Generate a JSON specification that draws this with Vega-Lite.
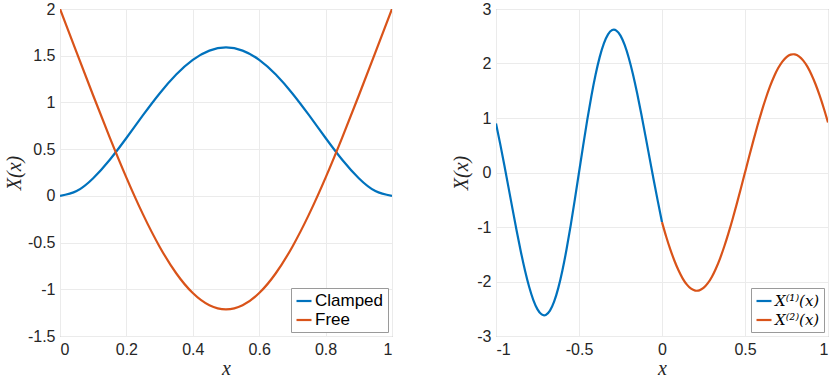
{
  "$schema": "https://vega.github.io/schema/vega-lite/v6.json",
  "padding": {"left": 3, "top": 0, "right": 0, "bottom": 0},
  "background": "white",
  "spacing": 104,
  "bounds": "flush",
  "resolve": {"scale": {"color": "independent"}},
  "config": {
    "font": "Liberation Sans",
    "view": {"stroke": "#9a9a9a", "strokeWidth": 1},
    "axis": {
      "labelFont": "Liberation Sans", "labelFontSize": 16, "labelColor": "#262626",
      "ticks": false, "tickSize": 0, "domain": false,
      "gridColor": "#ebebeb", "gridWidth": 1,
      "titleFont": "Liberation Serif", "titleFontStyle": "italic", "titleFontWeight": "normal",
      "titleFontSize": 20, "titleColor": "#262626"
    },
    "legend": {
      "orient": "bottom-right", "offset": 4, "title": null,
      "strokeColor": "#9a9a9a", "fillColor": "white", "padding": 4, "cornerRadius": 0,
      "symbolType": "stroke", "symbolSize": 225, "symbolStrokeWidth": 2.2,
      "labelFontSize": 17, "labelColor": "#000000", "labelOffset": 2, "rowPadding": 2
    }
  },
  "datasets": {
    "left": [
      {"x": 0, "y": 0, "series": "Clamped"},
      {"x": 0.05, "y": 0.0516, "series": "Clamped"},
      {"x": 0.1, "y": 0.1891, "series": "Clamped"},
      {"x": 0.15, "y": 0.3867, "series": "Clamped"},
      {"x": 0.2, "y": 0.6194, "series": "Clamped"},
      {"x": 0.25, "y": 0.8631, "series": "Clamped"},
      {"x": 0.3, "y": 1.096, "series": "Clamped"},
      {"x": 0.35, "y": 1.2987, "series": "Clamped"},
      {"x": 0.4, "y": 1.4555, "series": "Clamped"},
      {"x": 0.45, "y": 1.5544, "series": "Clamped"},
      {"x": 0.5, "y": 1.5882, "series": "Clamped"},
      {"x": 0.55, "y": 1.5544, "series": "Clamped"},
      {"x": 0.6, "y": 1.4555, "series": "Clamped"},
      {"x": 0.65, "y": 1.2987, "series": "Clamped"},
      {"x": 0.7, "y": 1.096, "series": "Clamped"},
      {"x": 0.75, "y": 0.8631, "series": "Clamped"},
      {"x": 0.8, "y": 0.6194, "series": "Clamped"},
      {"x": 0.85, "y": 0.3867, "series": "Clamped"},
      {"x": 0.9, "y": 0.1891, "series": "Clamped"},
      {"x": 0.95, "y": 0.0516, "series": "Clamped"},
      {"x": 1, "y": 0, "series": "Clamped"},
      {"x": 0, "y": 2, "series": "Free"},
      {"x": 0.05, "y": 1.5355, "series": "Free"},
      {"x": 0.1, "y": 1.0743, "series": "Free"},
      {"x": 0.15, "y": 0.624, "series": "Free"},
      {"x": 0.2, "y": 0.1955, "series": "Free"},
      {"x": 0.25, "y": -0.1984, "series": "Free"},
      {"x": 0.3, "y": -0.544, "series": "Free"},
      {"x": 0.35, "y": -0.8284, "series": "Free"},
      {"x": 0.4, "y": -1.0405, "series": "Free"},
      {"x": 0.45, "y": -1.1714, "series": "Free"},
      {"x": 0.5, "y": -1.2156, "series": "Free"},
      {"x": 0.55, "y": -1.1714, "series": "Free"},
      {"x": 0.6, "y": -1.0405, "series": "Free"},
      {"x": 0.65, "y": -0.8284, "series": "Free"},
      {"x": 0.7, "y": -0.544, "series": "Free"},
      {"x": 0.75, "y": -0.1984, "series": "Free"},
      {"x": 0.8, "y": 0.1955, "series": "Free"},
      {"x": 0.85, "y": 0.624, "series": "Free"},
      {"x": 0.9, "y": 1.0743, "series": "Free"},
      {"x": 0.95, "y": 1.5355, "series": "Free"},
      {"x": 1, "y": 2, "series": "Free"}
    ],
    "right": [
      {"x": -1, "y": 0.8988, "series": "X⁽¹⁾(x)"},
      {"x": -0.975, "y": 0.5294, "series": "X⁽¹⁾(x)"},
      {"x": -0.95, "y": 0.1375, "series": "X⁽¹⁾(x)"},
      {"x": -0.925, "y": -0.2682, "series": "X⁽¹⁾(x)"},
      {"x": -0.9, "y": -0.6772, "series": "X⁽¹⁾(x)"},
      {"x": -0.875, "y": -1.0777, "series": "X⁽¹⁾(x)"},
      {"x": -0.85, "y": -1.4573, "series": "X⁽¹⁾(x)"},
      {"x": -0.825, "y": -1.8028, "series": "X⁽¹⁾(x)"},
      {"x": -0.8, "y": -2.1016, "series": "X⁽¹⁾(x)"},
      {"x": -0.775, "y": -2.3415, "series": "X⁽¹⁾(x)"},
      {"x": -0.75, "y": -2.5121, "series": "X⁽¹⁾(x)"},
      {"x": -0.725, "y": -2.6046, "series": "X⁽¹⁾(x)"},
      {"x": -0.7, "y": -2.6131, "series": "X⁽¹⁾(x)"},
      {"x": -0.675, "y": -2.5345, "series": "X⁽¹⁾(x)"},
      {"x": -0.65, "y": -2.3693, "series": "X⁽¹⁾(x)"},
      {"x": -0.625, "y": -2.1214, "series": "X⁽¹⁾(x)"},
      {"x": -0.6, "y": -1.7978, "series": "X⁽¹⁾(x)"},
      {"x": -0.575, "y": -1.4093, "series": "X⁽¹⁾(x)"},
      {"x": -0.55, "y": -0.9694, "series": "X⁽¹⁾(x)"},
      {"x": -0.525, "y": -0.4938, "series": "X⁽¹⁾(x)"},
      {"x": -0.5, "y": 0, "series": "X⁽¹⁾(x)"},
      {"x": -0.475, "y": 0.4938, "series": "X⁽¹⁾(x)"},
      {"x": -0.45, "y": 0.9694, "series": "X⁽¹⁾(x)"},
      {"x": -0.425, "y": 1.4093, "series": "X⁽¹⁾(x)"},
      {"x": -0.4, "y": 1.7978, "series": "X⁽¹⁾(x)"},
      {"x": -0.375, "y": 2.1214, "series": "X⁽¹⁾(x)"},
      {"x": -0.35, "y": 2.3693, "series": "X⁽¹⁾(x)"},
      {"x": -0.325, "y": 2.5345, "series": "X⁽¹⁾(x)"},
      {"x": -0.3, "y": 2.6131, "series": "X⁽¹⁾(x)"},
      {"x": -0.275, "y": 2.6046, "series": "X⁽¹⁾(x)"},
      {"x": -0.25, "y": 2.5121, "series": "X⁽¹⁾(x)"},
      {"x": -0.225, "y": 2.3415, "series": "X⁽¹⁾(x)"},
      {"x": -0.2, "y": 2.1016, "series": "X⁽¹⁾(x)"},
      {"x": -0.175, "y": 1.8028, "series": "X⁽¹⁾(x)"},
      {"x": -0.15, "y": 1.4573, "series": "X⁽¹⁾(x)"},
      {"x": -0.125, "y": 1.0777, "series": "X⁽¹⁾(x)"},
      {"x": -0.1, "y": 0.6772, "series": "X⁽¹⁾(x)"},
      {"x": -0.075, "y": 0.2682, "series": "X⁽¹⁾(x)"},
      {"x": -0.05, "y": -0.1375, "series": "X⁽¹⁾(x)"},
      {"x": -0.025, "y": -0.5294, "series": "X⁽¹⁾(x)"},
      {"x": 0, "y": -0.91, "series": "X⁽¹⁾(x)"},
      {"x": 0, "y": -0.91, "series": "X⁽²⁾(x)"},
      {"x": 0.025, "y": -1.1744, "series": "X⁽²⁾(x)"},
      {"x": 0.05, "y": -1.4097, "series": "X⁽²⁾(x)"},
      {"x": 0.075, "y": -1.6193, "series": "X⁽²⁾(x)"},
      {"x": 0.1, "y": -1.7993, "series": "X⁽²⁾(x)"},
      {"x": 0.125, "y": -1.9464, "series": "X⁽²⁾(x)"},
      {"x": 0.15, "y": -2.058, "series": "X⁽²⁾(x)"},
      {"x": 0.175, "y": -2.132, "series": "X⁽²⁾(x)"},
      {"x": 0.2, "y": -2.167, "series": "X⁽²⁾(x)"},
      {"x": 0.225, "y": -2.1625, "series": "X⁽²⁾(x)"},
      {"x": 0.25, "y": -2.1185, "series": "X⁽²⁾(x)"},
      {"x": 0.275, "y": -2.0358, "series": "X⁽²⁾(x)"},
      {"x": 0.3, "y": -1.9159, "series": "X⁽²⁾(x)"},
      {"x": 0.325, "y": -1.761, "series": "X⁽²⁾(x)"},
      {"x": 0.35, "y": -1.5739, "series": "X⁽²⁾(x)"},
      {"x": 0.375, "y": -1.3581, "series": "X⁽²⁾(x)"},
      {"x": 0.4, "y": -1.1175, "series": "X⁽²⁾(x)"},
      {"x": 0.425, "y": -0.8565, "series": "X⁽²⁾(x)"},
      {"x": 0.45, "y": -0.5798, "series": "X⁽²⁾(x)"},
      {"x": 0.475, "y": -0.2926, "series": "X⁽²⁾(x)"},
      {"x": 0.5, "y": 0, "series": "X⁽²⁾(x)"},
      {"x": 0.525, "y": 0.2926, "series": "X⁽²⁾(x)"},
      {"x": 0.55, "y": 0.5798, "series": "X⁽²⁾(x)"},
      {"x": 0.575, "y": 0.8565, "series": "X⁽²⁾(x)"},
      {"x": 0.6, "y": 1.1175, "series": "X⁽²⁾(x)"},
      {"x": 0.625, "y": 1.3581, "series": "X⁽²⁾(x)"},
      {"x": 0.65, "y": 1.5739, "series": "X⁽²⁾(x)"},
      {"x": 0.675, "y": 1.761, "series": "X⁽²⁾(x)"},
      {"x": 0.7, "y": 1.9159, "series": "X⁽²⁾(x)"},
      {"x": 0.725, "y": 2.0358, "series": "X⁽²⁾(x)"},
      {"x": 0.75, "y": 2.1185, "series": "X⁽²⁾(x)"},
      {"x": 0.775, "y": 2.1625, "series": "X⁽²⁾(x)"},
      {"x": 0.8, "y": 2.167, "series": "X⁽²⁾(x)"},
      {"x": 0.825, "y": 2.132, "series": "X⁽²⁾(x)"},
      {"x": 0.85, "y": 2.058, "series": "X⁽²⁾(x)"},
      {"x": 0.875, "y": 1.9464, "series": "X⁽²⁾(x)"},
      {"x": 0.9, "y": 1.7993, "series": "X⁽²⁾(x)"},
      {"x": 0.925, "y": 1.6193, "series": "X⁽²⁾(x)"},
      {"x": 0.95, "y": 1.4097, "series": "X⁽²⁾(x)"},
      {"x": 0.975, "y": 1.1744, "series": "X⁽²⁾(x)"},
      {"x": 1, "y": 0.9176, "series": "X⁽²⁾(x)"}
    ]
  },
  "hconcat": [
    {
      "width": 332, "height": 327,
      "data": {"name": "left"},
      "mark": {"type": "line", "strokeWidth": 2.2, "interpolate": "natural", "clip": true},
      "encoding": {
        "x": {"field": "x", "type": "quantitative",
          "scale": {"domain": [0, 1], "nice": false, "zero": false},
          "axis": {"values": [0, 0.2, 0.4, 0.6, 0.8, 1], "labelExpr": "'' + datum.value", "title": "x", "labelPadding": 5, "titlePadding": 1}},
        "y": {"field": "y", "type": "quantitative",
          "scale": {"domain": [-1.5, 2], "nice": false, "zero": false},
          "axis": {"values": [-1.5, -1, -0.5, 0, 0.5, 1, 1.5, 2], "labelExpr": "'' + datum.value", "title": "X(x)", "labelPadding": 5, "titlePadding": 3}},
        "color": {"field": "series", "type": "nominal",
          "scale": {"domain": ["Clamped", "Free"], "range": ["#0072BD", "#D95319"]},
          "legend": {"labelFont": "Liberation Sans"}}
      }
    },
    {
      "width": 332, "height": 327,
      "data": {"name": "right"},
      "mark": {"type": "line", "strokeWidth": 2.2, "interpolate": "natural", "clip": true},
      "encoding": {
        "x": {"field": "x", "type": "quantitative",
          "scale": {"domain": [-1, 1], "nice": false, "zero": false},
          "axis": {"values": [-1, -0.5, 0, 0.5, 1], "labelExpr": "'' + datum.value", "title": "x", "labelPadding": 5, "titlePadding": 1}},
        "y": {"field": "y", "type": "quantitative",
          "scale": {"domain": [-3, 3], "nice": false, "zero": false},
          "axis": {"values": [-3, -2, -1, 0, 1, 2, 3], "labelExpr": "'' + datum.value", "title": "X(x)", "labelPadding": 5, "titlePadding": 5}},
        "color": {"field": "series", "type": "nominal",
          "scale": {"domain": ["X⁽¹⁾(x)", "X⁽²⁾(x)"], "range": ["#0072BD", "#D95319"]},
          "legend": {"labelFont": "DejaVu Serif", "labelFontStyle": "italic", "labelFontSize": 15}}
      }
    }
  ]
}
